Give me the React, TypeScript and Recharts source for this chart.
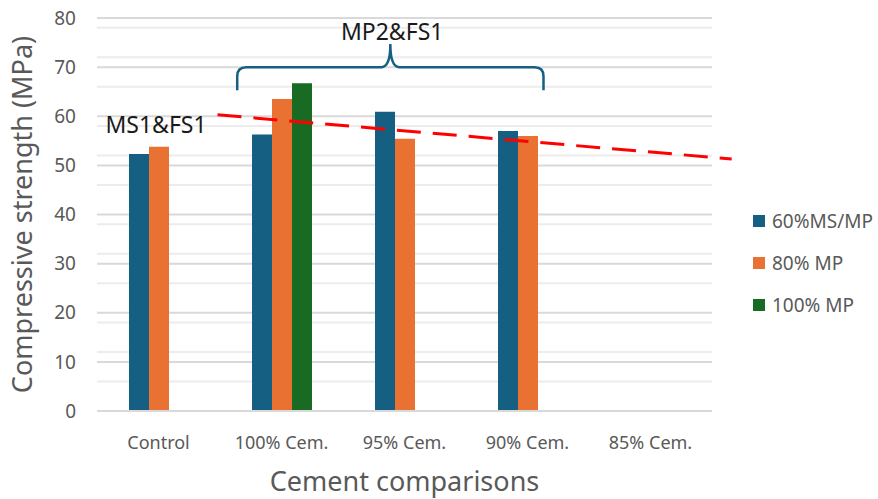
import {
  ComposedChart, Bar, XAxis, YAxis, CartesianGrid, Legend,
  ReferenceLine, ReferenceArea, ReferenceDot, Label,
} from "recharts";

// categories and measured strengths (MPa)
const categories = ["Control", "100% Cem.", "95% Cem.", "90% Cem.", "85% Cem."];
const ms60 = [52.3, 56.3, 60.9, 57.0, null];
const mp80 = [53.8, 63.5, 55.4, 56.0, null];
const mp100 = [null, 66.7, null, null, null];

const yTicks = [0, 10, 20, 30, 40, 50, 60, 70, 80];
const minorTicks = [2, 4, 6, 8, 12, 14, 16, 18, 22, 24, 26, 28, 32, 34, 36, 38, 42, 44, 46, 48, 52, 54, 56, 58, 62, 64, 66, 68, 72, 74, 76, 78];

// dashed trend, in category units along the hidden numeric axis
const trendX = [0.98, 5.16];
const trendY = [60.3, 51.3];

// brace over the MP2&FS1 group
const braceX = [1.14, 3.63];
const braceY = [65.3, 74.7];

const BLUE = "#156082";
const ORANGE = "#E97132";
const GREEN = "#196B24";
const FONT = "'Noto Sans', sans-serif";

const chartData = categories.map((c, i) => ({
  name: c,
  pos: i + 0.5,
  ms60: ms60[i],
  mp80: mp80[i],
  mp100: mp100[i],
}));

const series = [
  { key: "ms60", name: "60%MS/MP", color: BLUE },
  { key: "mp80", name: "80% MP", color: ORANGE },
  { key: "mp100", name: "100% MP", color: GREEN },
];

const Brace = (props: any) => {
  const { x, y, width, height } = props;
  const r = 9;
  const mid = y + height / 2;
  const bottom = y + height;
  const cx = x + width / 2;
  const right = x + width;
  const d = [
    `M ${x} ${bottom}`,
    `L ${x} ${mid + r}`,
    `Q ${x} ${mid} ${x + r} ${mid}`,
    `L ${cx - r} ${mid}`,
    `Q ${cx} ${mid} ${cx} ${y}`,
    `Q ${cx} ${mid} ${cx + r} ${mid}`,
    `L ${right - r} ${mid}`,
    `Q ${right} ${mid} ${right} ${mid + r}`,
    `L ${right} ${bottom}`,
  ].join(" ");
  return <path d={d} fill="none" stroke={BLUE} strokeWidth={2.5} />;
};

const LegendBox = () => (
  <div style={{ fontFamily: FONT, fontSize: 19, color: "#595959" }}>
    {series.map(s => (
      <div key={s.key} style={{ display: "flex", alignItems: "center", height: 42 }}>
        <span style={{ width: 12, height: 12, background: s.color, marginRight: 7, display: "inline-block" }} />
        {s.name}
      </div>
    ))}
  </div>
);

export default function App() {
  return (
    <div style={{ position: "absolute", left: 0, top: 0, background: "#fff" }}>
      <ComposedChart
        width={878}
        height={499}
        data={chartData}
        margin={{ top: 18, right: 166, bottom: 0, left: 0 }}
        barSize={20}
        barGap={0}
      >
        <CartesianGrid vertical={false} horizontalValues={minorTicks} stroke="#ececec" strokeWidth={2} />
        <CartesianGrid vertical={false} horizontalValues={yTicks} stroke="#d9d9d9" strokeWidth={2} />
        <XAxis
          dataKey="name"
          height={88}
          tickLine={false}
          tickSize={0}
          tickMargin={25}
          axisLine={{ stroke: "#d9d9d9", strokeWidth: 2 }}
          tick={{ fontSize: 18, fill: "#595959", fontFamily: FONT }}
        >
          <Label value="Cement comparisons" position="insideBottom" offset={8}
            style={{ fontSize: 27, fill: "#595959", fontFamily: FONT }} />
        </XAxis>
        <XAxis xAxisId="t" dataKey="pos" type="number" domain={[0, 5]} hide allowDataOverflow />
        <YAxis
          width={97}
          domain={[0, 80]}
          ticks={yTicks}
          axisLine={false}
          tickLine={false}
          tickSize={0}
          tickMargin={21}
          tick={{ fontSize: 19, fill: "#595959", fontFamily: FONT }}
        >
          <Label value="Compressive strength (MPa)" angle={-90} position="insideLeft" offset={22}
            style={{ fontSize: 27, fill: "#595959", fontFamily: FONT, textAnchor: "middle" }} />
        </YAxis>
        <Legend
          layout="vertical"
          align="center"
          verticalAlign="middle"
          content={<LegendBox />}
          wrapperStyle={{ left: 753, top: 200, width: 125 }}
        />
        {series.map(s => (
          <Bar key={s.key} dataKey={s.key} name={s.name} fill={s.color} isAnimationActive={false} />
        ))}
        <ReferenceLine
          xAxisId="t"
          segment={[{ x: trendX[0], y: trendY[0] }, { x: trendX[1], y: trendY[1] }]}
          stroke="#ff0000"
          strokeWidth={3}
          strokeDasharray="24 12"
          ifOverflow="visible"
        />
        <ReferenceArea
          xAxisId="t"
          x1={braceX[0]}
          x2={braceX[1]}
          y1={braceY[0]}
          y2={braceY[1]}
          ifOverflow="visible"
          shape={<Brace />}
        />
        <ReferenceDot xAxisId="t" x={0.48} y={58.2} r={0} stroke="none" ifOverflow="visible"
          label={{ value: "MS1&FS1", position: "center", fontSize: 23, fill: "#1a1a1a", fontFamily: FONT }} />
        <ReferenceDot xAxisId="t" x={2.4} y={77.2} r={0} stroke="none" ifOverflow="visible"
          label={{ value: "MP2&FS1", position: "center", fontSize: 23, fill: "#1a1a1a", fontFamily: FONT }} />
      </ComposedChart>
    </div>
  );
}
